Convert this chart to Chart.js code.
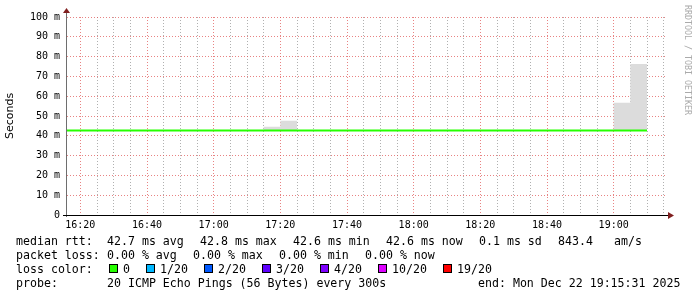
<!DOCTYPE html>
<html lang="en">
<head>
<meta charset="UTF-8">
<title>SmokePing - ICMP Echo</title>
<script src="https://cdn.jsdelivr.net/npm/chart.js"></script>
<style>
  html, body { margin: 0; padding: 0; background: #fff; }
  .wrap { position: relative; width: 697px; height: 297px; overflow: hidden; background: #fff; }
  #chart { position: absolute; left: 0; top: 0; }
  .txt { position: absolute; font-family: 'DejaVu Sans Mono', monospace; font-size: 11.6px; line-height: 14px; white-space: pre; color: #000; }
  .box { position: absolute; width: 7px; height: 7px; border: 1px solid #000; }
  .mark { position: absolute; left: 683px; top: 5px; writing-mode: vertical-rl; font-family: 'DejaVu Sans Mono', monospace; font-size: 8.3px; color: #aaaaaa; white-space: pre; }
</style>
</head>
<body>
<div class="wrap" id="wrap">
  <canvas id="chart" width="697" height="297"></canvas>
  <div class="mark">RRDTOOL / TOBI OETIKER</div>
</div>
<script>
// 5 minute steps, each value covers the 5 minutes ending at its time
const slotEnds = ['16:15','16:20','16:25','16:30','16:35','16:40','16:45','16:50','16:55',
                  '17:00','17:05','17:10','17:15','17:20','17:25','17:30','17:35','17:40',
                  '17:45','17:50','17:55','18:00','18:05','18:10','18:15','18:20','18:25',
                  '18:30','18:35','18:40','18:45','18:50','18:55','19:00','19:05','19:10'];
const medianRtt = [42.7, 42.7, 42.7, 42.7, 42.7, 42.7, 42.7, 42.7, 42.7,
                   42.7, 42.7, 42.7, 42.7, 42.7, 42.7, 42.7, 42.7, 42.7,
                   42.7, 42.7, 42.7, 42.7, 42.7, 42.7, 42.7, 42.7, 42.7,
                   42.7, 42.7, 42.7, 42.7, 42.7, 42.7, 42.7, 42.7, 42.7];
const smokeLow  = [42.5, 42.5, 42.5, 42.5, 42.5, 42.5, 42.5, 42.5, 42.5,
                   42.5, 42.5, 42.5, 42.5, 42.5, 42.5, 42.5, 42.5, 42.5,
                   42.5, 42.5, 42.5, 42.5, 42.5, 42.5, 42.5, 42.5, 42.5,
                   42.5, 42.5, 42.5, 42.5, 42.5, 42.5, 42.5, 42.5, 42.5];
const smokeHigh = [42.9, 42.9, 42.9, 42.9, 42.9, 42.9, 42.9, 42.9, 42.9,
                   42.9, 42.9, 42.9, 42.9, 44.6, 47.6, 42.9, 42.9, 42.9,
                   42.9, 42.9, 42.9, 42.9, 42.9, 42.9, 42.9, 42.9, 42.9,
                   42.9, 42.9, 42.9, 42.9, 42.9, 42.9, 42.9, 56.7, 76.3];

const xRange = ['16:16', '19:16'];
const xTickLabels = ['16:20','16:40','17:00','17:20','17:40','18:00','18:20','18:40','19:00'];
const yTickLabels = ['0','10 m','20 m','30 m','40 m','50 m','60 m','70 m','80 m','90 m','100 m'];

const lossLabels = ['0','1/20','2/20','3/20','4/20','10/20','19/20'];
const lossColors = ['#26ff00','#00b8ff','#0059ff','#5e00ff','#7e00ff','#dd00ff','#ff0000'];

function toMin(s) {
    const p = s.split(':').map(Number);
    return p[0] * 60 + p[1];
}
const pts = arr => arr.map((v, i) => ({ x: toMin(slotEnds[i]), y: v }));

const xMin = toMin(xRange[0]), xMax = toMin(xRange[1]);
const labelAt = {};
xTickLabels.forEach(l => { labelAt[toMin(l)] = l; });

const MGRID = 'rgba(222,79,79,0.7)';
const GRID = 'rgba(143,143,143,0.7)';

// axis lines and the two little arrows, drawn like rrdtool does
const axisDecor = {
    id: 'axisDecor',
    afterDatasetsDraw(chart) {
        const { ctx, chartArea: a } = chart;
        ctx.save();
        ctx.lineWidth = 1;
        ctx.strokeStyle = '#6e6e6e';
        ctx.beginPath();
        ctx.moveTo(a.left - 0.5, a.bottom + 2);
        ctx.lineTo(a.left - 0.5, a.top - 4);
        ctx.stroke();
        ctx.strokeStyle = '#000';
        ctx.beginPath();
        ctx.moveTo(a.left - 4, a.bottom + 0.5);
        ctx.lineTo(a.right + 2, a.bottom + 0.5);
        ctx.stroke();
        ctx.fillStyle = 'rgb(128,31,31)';
        ctx.beginPath();
        ctx.moveTo(a.left - 0.5, a.top - 9);
        ctx.lineTo(a.left - 4, a.top - 4);
        ctx.lineTo(a.left + 3, a.top - 4);
        ctx.closePath();
        ctx.fill();
        ctx.beginPath();
        ctx.moveTo(a.right + 7, a.bottom + 0.5);
        ctx.lineTo(a.right + 1, a.bottom - 3);
        ctx.lineTo(a.right + 1, a.bottom + 4);
        ctx.closePath();
        ctx.fill();
        ctx.restore();
    }
};

new Chart(document.getElementById('chart'), {
    type: 'line',
    data: {
        datasets: [
            {
                label: 'smoke low',
                data: pts(smokeLow),
                order: 2,
                borderWidth: 0,
                borderColor: 'rgba(0,0,0,0)',
                pointRadius: 0,
                stepped: 'after',
                fill: false
            },
            {
                label: 'smoke high',
                data: pts(smokeHigh),
                order: 1,
                borderWidth: 0,
                borderColor: 'rgba(0,0,0,0)',
                backgroundColor: '#dcdcdc',
                pointRadius: 0,
                stepped: 'after',
                fill: '-1'
            },
            {
                label: 'median rtt',
                data: pts(medianRtt),
                order: 0,
                borderColor: lossColors[0],
                borderWidth: 2,
                pointRadius: 0,
                stepped: 'after',
                fill: false
            }
        ]
    },
    options: {
        responsive: false,
        animation: false,
        layout: { padding: { top: 17, right: 30, left: 0, bottom: 0 } },
        plugins: { legend: { display: false }, tooltip: { enabled: false } },
        scales: {
            x: {
                type: 'linear',
                min: xMin,
                max: xMax,
                afterBuildTicks(scale) {
                    const t = [];
                    for (let v = toMin(xTickLabels[0]); v <= xMax; v += 5) t.push({ value: v });
                    scale.ticks = t;
                },
                afterFit(scale) { scale.height = 82; },
                ticks: {
                    autoSkip: false,
                    maxRotation: 0,
                    padding: 4,
                    color: '#000',
                    font: { family: 'DejaVu Sans Mono', size: 10 },
                    callback: v => labelAt[v] || ''
                },
                grid: {
                    drawTicks: false,
                    lineWidth: 1,
                    color: c => (labelAt[c.tick && c.tick.value] ? MGRID : GRID)
                },
                border: { display: false, dash: [1, 2] }
            },
            y: {
                min: 0,
                max: 100,
                afterBuildTicks(scale) {
                    const t = [];
                    for (let v = 0; v <= 100; v += 5) t.push({ value: v });
                    scale.ticks = t;
                },
                afterFit(scale) { scale.width = 67; },
                ticks: {
                    padding: 7,
                    color: '#000',
                    font: { family: 'DejaVu Sans Mono', size: 10 },
                    callback: v => (v % 10 === 0 ? yTickLabels[v / 10] : '')
                },
                grid: {
                    drawTicks: false,
                    lineWidth: 1,
                    color: c => {
                        const v = c.tick && c.tick.value;
                        if (v === 0) return 'rgba(0,0,0,0)';
                        return v % 10 === 0 ? MGRID : GRID;
                    }
                },
                border: { display: false, dash: [1, 2] },
                title: {
                    display: true,
                    text: 'Seconds',
                    color: '#000',
                    font: { family: 'DejaVu Sans', size: 11 },
                    padding: { top: 4, bottom: 0 }
                }
            }
        }
    },
    plugins: [axisDecor]
});

// legend text under the graph
const wrap = document.getElementById('wrap');
function put(text, x, yc) {
    const d = document.createElement('div');
    d.className = 'txt';
    d.textContent = text;
    d.style.left = x + 'px';
    d.style.top = (yc - 7) + 'px';
    wrap.appendChild(d);
    return d;
}

put('median rtt:', 16, 241);
put('42.7 ms avg', 107, 241);
put('42.8 ms max', 200, 241);
put('42.6 ms min', 293, 241);
put('42.6 ms now', 386, 241);
put('0.1 ms sd', 479, 241);
put('843.4', 558, 241);
put('am/s', 614, 241);

put('packet loss:', 16, 255);
put('0.00 % avg', 107, 255);
put('0.00 % max', 193, 255);
put('0.00 % min', 279, 255);
put('0.00 % now', 365, 255);

put('loss color:', 16, 269);
let bx = 109;
lossLabels.forEach((lab, i) => {
    const b = document.createElement('div');
    b.className = 'box';
    b.style.left = bx + 'px';
    b.style.top = '264px';
    b.style.background = lossColors[i];
    wrap.appendChild(b);
    put(lab, bx + 14, 269);
    bx += 14 + lab.length * 7 + 16;
});

put('probe:', 16, 283);
put('20 ICMP Echo Pings (56 Bytes) every 300s', 107, 283);
put('end: Mon Dec 22 19:15:31 2025', 478, 283);
</script>
</body>
</html>
